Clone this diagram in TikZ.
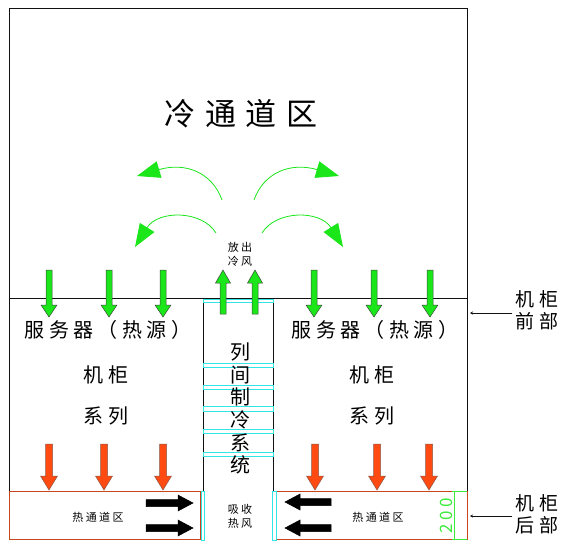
\documentclass[tikz,border=0pt]{standalone}
\usepackage{fontspec}
\setmainfont{Noto Sans CJK SC}[LetterSpace=22]
\newfontfamily\widecjk{Noto Sans CJK SC}[LetterSpace=32]
\usepackage{tikz}
\usetikzlibrary{arrows.meta,calc,positioning}
\definecolor{frame}{HTML}{111111}
\definecolor{cold}{HTML}{1AE61A}
\definecolor{coldedge}{HTML}{3C4A3C}
\definecolor{hot}{HTML}{FF4A12}
\definecolor{hotedge}{HTML}{8A5A4A}
\definecolor{hotline}{HTML}{C8461E}
\definecolor{bar}{HTML}{33E6E6}
\definecolor{dimgreen}{HTML}{3CEB3C}
\tikzset{
  wall/.style={draw=frame,line width=.8pt},
  hotzone/.style={draw=hotline,line width=.9pt},
  barbox/.style={draw=bar,line width=.9pt,fill=white},
  coldarrow/.style={fill=cold,draw=coldedge,line width=.5pt},
  hotarrow/.style={fill=hot,draw=hotedge,line width=.5pt},
  pusharrow/.style={fill=black,draw=black,line width=.5pt},
  swirl/.style={draw=cold,line width=.8pt,-{Triangle[length=23pt,width=17pt]}},
  pointer/.style={draw=frame,line width=.7pt,-{Stealth[length=3pt,width=3pt]}},
  dimline/.style={draw=dimgreen,line width=.9pt},
  bigtxt/.style={font=\widecjk\fontsize{31}{34}\selectfont},
  midtxt/.style={font=\fontsize{20}{23}\selectfont},
  smalltxt/.style={font=\fontsize{11}{14}\selectfont,align=center},
  sidetxt/.style={font=\fontsize{19}{22}\selectfont,align=center}
}
\begin{document}
\begin{tikzpicture}[x=1pt,y=-1pt]
  \useasboundingbox (0,0) rectangle (573,550);
  % frame of the aisles
  \draw[wall] (9,8) rectangle (467,298);
  \draw[wall] (9,298)--(9,491); \draw[wall] (467,298)--(467,491);
  \draw[wall] (203,298)--(203,540); \draw[wall] (273,298)--(273,540);
  \draw[hotzone] (9,491) rectangle (200,539);
  \draw[hotzone] (276,491) rectangle (467,539);
  % cyan separators of the in-row cooler
  \foreach \ya/\yb in {299/302,363/367,385/389,406/411,429/433,452/456}
    \draw[barbox] (203,\ya) rectangle (273,\yb);
  \draw[barbox] (201,491) rectangle (204,540);
  \draw[barbox] (272,491) rectangle (276,540);
  % texts
  \node[bigtxt] (title) at (241,114) {冷通道区};
  \node[smalltxt] (release) at (240,254) {放出\\冷风};
  \node[midtxt] (serverL) at (108,330) {服务器（热源）};
  \node[midtxt] (serverR) at (375,330) {服务器（热源）};
  \node[midtxt] (rackL) at (106,375) {机柜};
  \node[midtxt] (rackR) at (372,375) {机柜};
  \node[midtxt] (seriesL) at (106,416) {系列};
  \node[midtxt] (seriesR) at (372,416) {系列};
  \foreach \ch [count=\i] in {列,间,制,冷,系,统}
    \node[midtxt] (col\i) at (240,{352+22.6*(\i-1)}) {\ch};
  \node[smalltxt] (absorb) at (240,516) {吸收\\热风};
  \node[smalltxt] (hotL) at (98,517) {热通道区};
  \node[smalltxt] (hotR) at (378,517) {热通道区};
  \node[sidetxt] (frontlbl) at (537,310) {机柜\\前部};
  \node[sidetxt] (rearlbl) at (537,514) {机柜\\后部};
  % pointers to the cabinet
  \coordinate (frontedge) at (470,313);
  \coordinate (rearedge) at (470,516);
  \draw[pointer] (frontlbl.west |- frontedge) -- (frontedge);
  \draw[pointer] (rearlbl.west |- rearedge) -- (rearedge);
  % depth mark
  \draw[dimline] (452,491)--(467,491); \draw[dimline] (454,491)--(454,539);
  \draw[dimline] (452,539)--(467,539);
  \node[font=\fontsize{17}{17}\selectfont,text=dimgreen,rotate=90] (depth) at (446,516) {200};
  % cold air out of the cooler
  \draw[swirl] (222,200) .. controls (212,172) and (185,162) .. (137,176);
  \draw[swirl] (254,200) .. controls (264,172) and (291,162) .. (339,176);
  \draw[swirl] (216,233) .. controls (202,210) and (158,210) .. (135,247);
  \draw[swirl] (262,233) .. controls (276,210) and (320,210) .. (343,247);
  % block arrows
  \foreach \x in {49,109,163,314,374,430}
    \draw[coldarrow] ({\x-3},270)--({\x+3},270)--({\x+3},305)--({\x+8},305)--(\x,317)--({\x-8},305)--({\x-3},305)--cycle;
  \foreach \x in {223,255}
    \draw[coldarrow] ({\x-3},314)--({\x+3},314)--({\x+3},283)--({\x+7.5},283)--(\x,270)--({\x-7.5},283)--({\x-3},283)--cycle;
  \foreach \x in {49,104,163,315,377,429}
    \draw[hotarrow] ({\x-3.5},444)--({\x+3.5},444)--({\x+3.5},476)--({\x+8.5},476)--(\x,490)--({\x-8.5},476)--({\x-3.5},476)--cycle;
  \foreach \y in {503,528}
    \draw[pusharrow] (146,{\y-3.5})--(178,{\y-3.5})--(178,{\y-8})--(193,\y)--(178,{\y+8})--(178,{\y+3.5})--(146,{\y+3.5})--cycle;
  \foreach \y in {502,528}
    \draw[pusharrow] (331,{\y-3.5})--(300,{\y-3.5})--(300,{\y-8})--(285,\y)--(300,{\y+8})--(300,{\y+3.5})--(331,{\y+3.5})--cycle;
\end{tikzpicture}
\end{document}
